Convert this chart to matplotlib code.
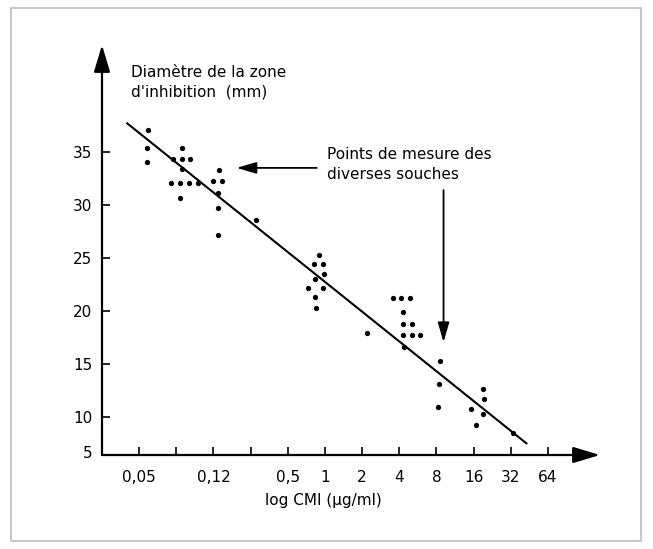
import matplotlib
matplotlib.use('Agg')
import matplotlib.pyplot as plt
from matplotlib.patches import Rectangle
import matplotlib.transforms as mtransforms

# x positions are given on the equally spaced (log) tick scale, tick n = n-th tick
tick_pos = [1, 2, 3, 4, 5, 6, 7, 8, 9, 10, 11, 12]
tick_labels = ['0,05', '', '0,12', '', '0,5', '1', '2', '4', '8', '16', '32', '64']
ytick_vals = [6.7, 10, 15, 20, 25, 30, 35]
ytick_labels = ['5', '10', '15', '20', '25', '30', '35']

# measured strains (position on log CMI scale, diameter in mm)
pts_x = [1.24, 1.22, 1.22,
         2.14, 1.92, 2.16, 2.38, 2.14, 1.85, 2.10, 2.34, 2.59, 2.10,
         3.16, 3.00, 3.22, 3.13, 3.13, 3.11,
         4.15,
         5.84, 5.71, 5.94, 5.98, 5.74, 5.54, 5.94, 5.74, 5.76,
         7.14,
         7.82, 8.05, 8.30, 8.09, 8.09, 8.34, 8.09, 8.34, 8.57, 8.12,
         9.09, 9.07, 9.05,
         10.26, 10.27, 9.93, 10.26, 10.06, 11.06]
pts_y = [37.1, 35.4, 34.1,
         35.4, 34.3, 34.3, 34.3, 33.4, 32.1, 32.1, 32.1, 32.1, 30.7,
         33.3, 32.3, 32.3, 31.1, 29.7, 27.2,
         28.6,
         25.25, 24.4, 24.4, 23.5, 23.0, 22.2, 22.2, 21.3, 20.3,
         17.9,
         21.2, 21.2, 21.2, 19.9, 18.8, 18.8, 17.7, 17.7, 17.7, 16.6,
         15.3, 13.1, 10.9,
         12.6, 11.7, 10.7, 10.3, 9.2, 8.5]

# regression line ends
line_x = [0.68, 11.42]
line_y = [37.7, 7.5]

fig = plt.figure(figsize=(6.53, 5.49), dpi=100)
ax = fig.add_axes([102 / 653, 1 - 455 / 549, (600 - 102) / 653, (455 - 45) / 549])

ax.set_xlim(0, 13.4)
ax.set_ylim(6.4, 45.1)

for s in ax.spines.values():
    s.set_visible(False)

# axes as arrows
arrow_kw = dict(arrowstyle='-|>,head_length=1.5,head_width=0.45', lw=1.6, color='black',
                shrinkA=0, shrinkB=0, mutation_scale=11)
ax.annotate('', xy=(1, 0), xytext=(0, 0), xycoords='axes fraction', arrowprops=arrow_kw)
ax.annotate('', xy=(0, 1), xytext=(0, 0), xycoords='axes fraction', arrowprops=arrow_kw)

ax.set_xticks(tick_pos)
ax.set_xticklabels(tick_labels)
ax.set_yticks(ytick_vals)
ax.set_yticklabels(ytick_labels)
ax.tick_params(axis='both', direction='in', length=6, width=1.2, labelsize=11)
ax.tick_params(axis='x', pad=11)
ax.tick_params(axis='y', pad=7)
ax.yaxis.get_major_ticks()[0].tick1line.set_visible(False)

ax.plot(line_x, line_y, color='black', lw=1.5)
ax.plot(pts_x, pts_y, 'o', color='black', ms=3.8, mec='none')

ax.text(0.77, 41.6, "Diamètre de la zone\nd'inhibition  (mm)", fontsize=11,
        va='center', ha='left', linespacing=1.35)
ax.text(6.05, 33.84, "Points de mesure des\ndiverses souches", fontsize=11,
        va='center', ha='left', linespacing=1.45)

ptr_kw = dict(arrowstyle='-|>,head_length=1.2,head_width=0.35', lw=1.3, color='black',
              shrinkA=0, shrinkB=0, mutation_scale=10)
ax.annotate('', xy=(3.62, 33.5), xytext=(5.78, 33.5), arrowprops=ptr_kw)
ax.annotate('', xy=(9.19, 17.05), xytext=(9.19, 31.4), arrowprops=ptr_kw)

trans = mtransforms.blended_transform_factory(ax.transData, ax.transAxes)
ax.text(5.95, -0.11, 'log CMI (µg/ml)', transform=trans, fontsize=11,
        ha='center', va='center')

fig.patches.append(Rectangle((11 / 653, 1 - 541 / 549), 630 / 653, 533 / 549,
                             transform=fig.transFigure, fill=False,
                             edgecolor='#c8c8c8', lw=1.5))

fig.savefig('out.png', dpi=100)
